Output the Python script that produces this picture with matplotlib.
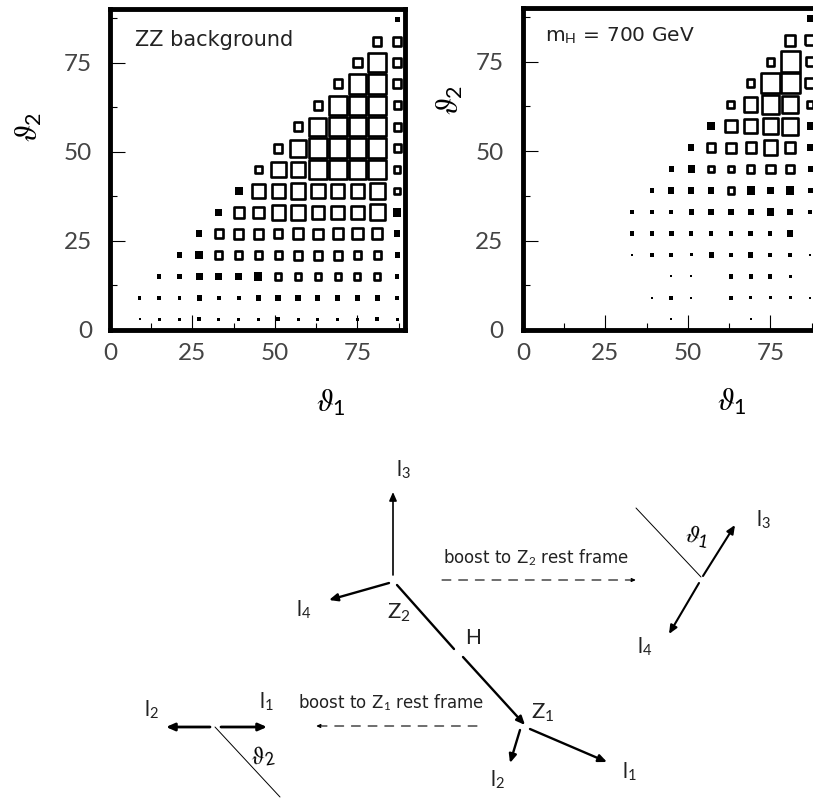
import matplotlib
matplotlib.use("Agg")
import matplotlib.pyplot as plt
from matplotlib.patches import Rectangle
from matplotlib.ticker import MultipleLocator

plt.rcParams['font.family'] = ['Lato', 'DejaVu Sans']
plt.rcParams['mathtext.fontset'] = 'custom'
plt.rcParams['mathtext.rm'] = 'Lato'
plt.rcParams['mathtext.it'] = 'STIXGeneral:italic'
plt.rcParams['mathtext.bf'] = 'Lato:bold'
plt.rcParams['mathtext.fallback'] = 'stix'

W, H = 813, 801

# Bin centres (degrees)
theta1_bins = [9, 15, 21, 27, 33, 39, 45, 51, 57, 63, 69, 75, 81, 87]
theta2_bins = [87, 81, 75, 69, 63, 57, 51, 45, 39, 33, 27, 21, 15, 9, 3]

# Box side per bin, one row per theta2 (top row = 87), one column per theta1
zz_background = [
    [0, 0, 0, 0, 0, 0, 0, 0, 0, 0, 0, 0, 0, 4],
    [0, 0, 0, 0, 0, 0, 0, 0, 0, 0, 0, 0, 10, 10],
    [0, 0, 0, 0, 0, 0, 0, 0, 0, 0, 0, 11, 19, 10],
    [0, 0, 0, 0, 0, 0, 0, 0, 0, 0, 10, 19, 19, 10],
    [0, 0, 0, 0, 0, 0, 0, 0, 0, 10, 19, 19, 19, 9],
    [0, 0, 0, 0, 0, 0, 0, 0, 10, 18, 19, 19, 19, 9],
    [0, 0, 0, 0, 0, 0, 0, 10, 17, 19, 19, 19, 19, 9],
    [0, 0, 0, 0, 0, 0, 9, 16, 16, 19, 19, 19, 19, 8],
    [0, 0, 0, 0, 0, 7, 14, 15, 16, 15, 15, 15, 16, 8],
    [0, 0, 0, 0, 6, 12, 12, 15, 15, 14, 14, 14, 16, 7],
    [0, 0, 0, 5, 10, 11, 11, 10, 12, 11, 12, 12, 12, 5],
    [0, 0, 4, 7, 9, 9, 9, 9, 10, 10, 10, 9, 9, 4],
    [0, 3, 4, 6, 6, 6, 7, 8, 8, 8, 8, 8, 8, 3],
    [2, 3, 2, 4, 3, 3, 4, 5, 5, 4, 4, 4, 4, 3],
    [1, 2, 2, 3, 2, 2, 2, 3, 2, 2, 2, 2, 3, 2],
]
higgs_700 = [
    [0, 0, 0, 0, 0, 0, 0, 0, 0, 0, 0, 0, 0, 5],
    [0, 0, 0, 0, 0, 0, 0, 0, 0, 0, 0, 0, 12, 11],
    [0, 0, 0, 0, 0, 0, 0, 0, 0, 0, 0, 9, 20, 10],
    [0, 0, 0, 0, 0, 0, 0, 0, 0, 0, 9, 20, 20, 11],
    [0, 0, 0, 0, 0, 0, 0, 0, 0, 9, 15, 19, 17, 8],
    [0, 0, 0, 0, 0, 0, 0, 0, 7, 13, 14, 16, 17, 6],
    [0, 0, 0, 0, 0, 0, 0, 5, 10, 11, 12, 15, 12, 6],
    [0, 0, 0, 0, 0, 0, 4, 6, 8, 8, 9, 10, 10, 4],
    [0, 0, 0, 0, 0, 3, 5, 5, 5, 8, 7, 6, 7, 4],
    [0, 0, 0, 0, 3, 3, 3, 4, 5, 5, 5, 6, 5, 3],
    [0, 0, 0, 0, 3, 3, 4, 3, 3, 3, 4, 3, 5, 0],
    [0, 0, 0, 0, 1, 3, 3, 2, 4, 3, 4, 3, 3, 1],
    [0, 0, 0, 0, 0, 0, 1, 1, 0, 3, 3, 3, 2, 0],
    [0, 0, 0, 0, 0, 1, 3, 1, 0, 3, 2, 2, 2, 1],
    [0, 0, 0, 0, 0, 0, 1, 0, 0, 0, 1, 0, 0, 0],
]
tick_values = [0, 25, 50, 75]

fig = plt.figure(figsize=(W / 100, H / 100), dpi=100, facecolor='white')


def axes_px(x0, y0, x1, y1):
    return fig.add_axes([x0 / W, 1 - y1 / H, (x1 - x0) / W, (y1 - y0) / H])


def panel(box, grid, note, note_xy, note_size, ylabel_xy, xlabel_xy, ypad):
    ax = axes_px(*box)
    ax.set_xlim(0, 89.4)
    ax.set_ylim(0, 90)
    lw_pt = 1.9
    lw_deg = lw_pt / 0.72 / 3.3
    px_per_deg = (box[2] - box[0]) / 89.4
    for c, xv in enumerate(theta1_bins):
        for r, yv in enumerate(theta2_bins):
            side = grid[r][c]
            if side == 0:
                continue
            if side >= 8:
                d = side * 1.08 / px_per_deg - lw_deg
                ax.add_patch(Rectangle((xv - d / 2, yv - d / 2), d, d, fill=False,
                                       edgecolor='black', linewidth=lw_pt,
                                       joinstyle='round', zorder=3))
            else:
                d = (side + 1) / px_per_deg
                ax.add_patch(Rectangle((xv - d / 2, yv - d / 2), d, d,
                                       facecolor='black', edgecolor='none', zorder=3))
    for s in ax.spines.values():
        s.set_linewidth(3.5)
    ax.set_xticks(tick_values)
    ax.set_yticks(tick_values)
    ax.xaxis.set_minor_locator(MultipleLocator(12.5))
    ax.yaxis.set_minor_locator(MultipleLocator(12.5))
    ax.tick_params(which='major', direction='in', length=11, width=0.8,
                   labelsize=17.5, labelcolor='#444444')
    ax.tick_params(which='minor', direction='in', length=5, width=0.8)
    ax.tick_params(axis='x', which='major', pad=9)
    ax.tick_params(axis='y', which='major', pad=ypad)
    fig.text(note_xy[0] / W, 1 - note_xy[1] / H, note, fontsize=note_size,
             color='#222222', va='center', ha='left', family='DejaVu Sans')
    fig.text(ylabel_xy[0] / W, 1 - ylabel_xy[1] / H, r'$\vartheta_2$',
             fontsize=22, rotation=90, ha='center', va='center')
    fig.text(xlabel_xy[0] / W, 1 - xlabel_xy[1] / H, r'$\vartheta_1$',
             fontsize=22, ha='center', va='center')
    return ax


panel((110, 9, 405, 330), zz_background, 'ZZ background', (135, 40), 15,
      (29, 127), (331, 403), 13)
panel((523, 8, 818, 330), higgs_700, r'm$_{\mathrm{H}}$ = 700 GeV', (545, 36), 14.5,
      (450, 100), (732, 402), 14)

# Kinematics sketch drawn on a pixel-scaled overlay
ov = fig.add_axes([0, 0, 1, 1], facecolor='none')
ov.set_xlim(0, W)
ov.set_ylim(H, 0)
ov.axis('off')


def arrow(a, b, lw=1.8, ls='-', head=True, scale=10):
    ov.annotate('', xy=b, xytext=a,
                arrowprops=dict(arrowstyle='-|>,head_length=0.5,head_width=0.22' if head else '-',
                                lw=lw, color='black', linestyle=ls,
                                shrinkA=0, shrinkB=0, mutation_scale=scale))


arrows = [((393, 575), (393, 492), 1.2), ((389, 583), (329, 600), 1.7),
          ((463, 657), (525, 725), 1.7), ((530, 729), (607, 762), 1.7),
          ((520, 730), (510, 763), 1.7), ((210, 727), (166, 727), 2.0),
          ((221, 727), (267, 727), 2.0), ((703, 576), (735, 525), 1.5),
          ((699, 583), (669, 634), 1.5)]
for a, b, lw in arrows:
    arrow(a, b, lw)
arrow((397, 585), (454, 649), 1.7, head=False)
arrow((215, 727), (280, 797), 0.7, head=False)
arrow((636, 508), (701, 577), 0.7, head=False)
arrow((442, 580), (636, 580), 0.8, ls=(0, (8, 7)), scale=5)
arrow((477, 726), (316, 726), 0.8, ls=(0, (8, 7)), scale=5)

labels = [('l$_3$', 403, 470, 15), ('l$_4$', 304, 610, 15), ('Z$_2$', 399, 612, 16),
          ('H', 473, 638, 15), ('Z$_1$', 543, 712, 16), ('l$_1$', 629, 772, 15),
          ('l$_2$', 497, 780, 15), ('l$_2$', 151, 710, 15), ('l$_1$', 266, 702, 15),
          ('l$_3$', 763, 520, 15), ('l$_4$', 645, 647, 15)]
for s, x, y, fs in labels:
    ov.text(x, y, s, fontsize=fs, ha='center', va='center', color='#222222')
ov.text(263, 757, r'$\vartheta_2$', fontsize=17, ha='center', va='center', rotation=10)
ov.text(697, 537, r'$\vartheta_1$', fontsize=17, ha='center', va='center', rotation=-10)
ov.text(536, 558, 'boost to Z$_2$ rest frame', fontsize=12, ha='center', va='center',
        color='#222222', family='DejaVu Sans')
ov.text(391, 703, 'boost to Z$_1$ rest frame', fontsize=12, ha='center', va='center',
        color='#222222', family='DejaVu Sans')

fig.savefig('out.png', dpi=100)
